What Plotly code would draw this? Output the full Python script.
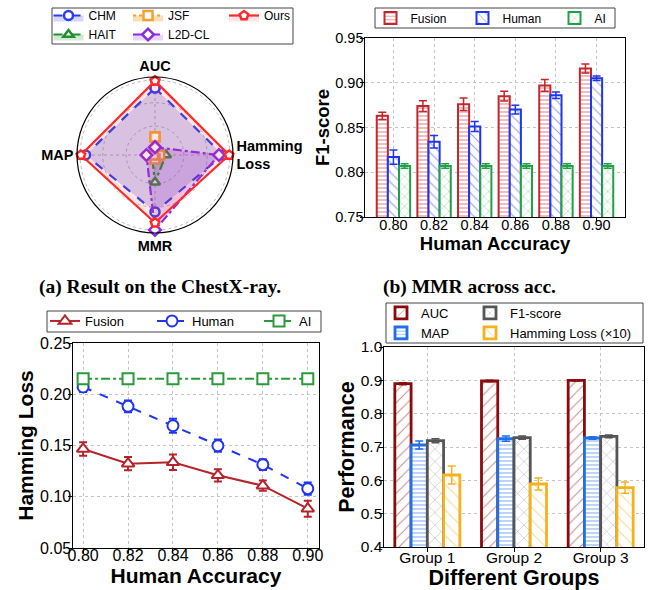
import plotly.graph_objects as go

W, H = 654, 590
FONT = "Liberation Sans, Arial, sans-serif"
SERIF = "Liberation Serif, Times New Roman, serif"

# ---------------- data ----------------
# (a) radar
radar_axes = ["AUC", "Hamming<br>Loss", "MMR", "MAP"]
radar_chm = [0.86, 0.87, 0.73, 0.89]
radar_hait = [0.02, 0.14, 0.35, 0.04]
radar_jsf = [0.23, 0.06, 0.05, 0.02]
radar_l2d = [0.10, 0.82, 0.96, 0.11]
radar_ours = [0.95, 0.95, 0.87, 0.95]

# (b) F1-score across human accuracy
acc_labels = ["0.80", "0.82", "0.84", "0.86", "0.88", "0.90"]
b_fusion = [0.863, 0.874, 0.876, 0.885, 0.897, 0.916]
b_fusion_err = [0.004, 0.006, 0.007, 0.0055, 0.0065, 0.005]
b_human = [0.817, 0.834, 0.851, 0.870, 0.886, 0.905]
b_human_err = [0.008, 0.007, 0.0056, 0.005, 0.0037, 0.0026]
b_ai = [0.807, 0.807, 0.807, 0.807, 0.807, 0.807]
b_ai_err = [0.0026, 0.0026, 0.0026, 0.0026, 0.0026, 0.0026]

# (c) Hamming loss across human accuracy
acc_values = [0.80, 0.82, 0.84, 0.86, 0.88, 0.90]
c_fusion = [0.1466, 0.1323, 0.1336, 0.1209, 0.1108, 0.0884]
c_fusion_err = [0.0065, 0.0065, 0.0075, 0.006, 0.005, 0.0078]
c_human = [0.2071, 0.1882, 0.1693, 0.1498, 0.1313, 0.1079]
c_human_err = [0.005, 0.0057, 0.0068, 0.006, 0.0052, 0.0059]
c_ai = [0.2152, 0.2152, 0.2152, 0.2152, 0.2152, 0.2152]
c_ai_err = [0.001, 0.001, 0.001, 0.001, 0.001, 0.001]

# (d) performance across groups
groups = ["Group 1", "Group 2", "Group 3"]
d_auc = [0.890, 0.898, 0.900]
d_auc_err = [0.003, 0.002, 0.002]
d_map = [0.706, 0.725, 0.727]
d_map_err = [0.012, 0.008, 0.004]
d_f1 = [0.719, 0.728, 0.732]
d_f1_err = [0.006, 0.005, 0.004]
d_hl10 = [0.616, 0.589, 0.578]
d_hl10_err = [0.027, 0.018, 0.017]

fig = go.Figure()

# ---------------- (a) radar ----------------
def closed(v):
    return list(v) + [v[0]]

radar_series = [
    ("CHM", radar_chm, "#2b3cf0", "dash", "circle", "rgba(60,70,230,0.22)", "legend3", 1),
    ("HAIT", radar_hait, "#23902d", "dashdot", "triangle-up", "rgba(35,144,45,0.20)", "legend3", 2),
    ("JSF", radar_jsf, "#f5a030", "dot", "square", "rgba(245,160,48,0.35)", "legend4", 1),
    ("L2D-CL", radar_l2d, "#8a2be2", "dashdot", "diamond", "rgba(138,43,226,0.20)", "legend4", 2),
    ("Ours", radar_ours, "#ff2a2a", "solid", "pentagon", "rgba(255,60,60,0.13)", "legend5", 1),
]
for name, vals, col, dash, sym, fillc, leg, rank in radar_series:
    fig.add_trace(go.Scatterpolar(
        r=closed(vals), theta=closed(radar_axes), name=name, mode="lines+markers",
        fill="toself", fillcolor=fillc,
        line=dict(color=col, width=2.2, dash=dash),
        marker=dict(symbol=sym, size=9, color="white", line=dict(color=col, width=2.5)),
        legend=leg, legendrank=rank, subplot="polar",
    ))

# ---------------- (b) bars ----------------
b_w = 0.274
b_series = [
    ("Fusion", b_fusion, b_fusion_err, "#c4262e", "-", 4, 0.3),
    ("Human", b_human, b_human_err, "#1f35f0", "\\", 7, 0.15),
    ("AI", b_ai, b_ai_err, "#22a045", "x", 7, 0.15),
]
for i, (name, vals, err, col, shp, sz, sol) in enumerate(b_series):
    fig.add_trace(go.Bar(
        x=acc_labels, y=vals, name=name, width=b_w, offset=-1.5 * b_w + i * b_w,
        marker=dict(color="white", line=dict(color=col, width=2),
                    pattern=dict(shape=shp, fgcolor=col, bgcolor="white", size=sz, solidity=sol)),
        error_y=dict(type="data", array=err, color=col, thickness=1.5, width=4),
        xaxis="x", yaxis="y", legend="legend",
    ))

# ---------------- (c) lines ----------------
c_series = [
    ("Fusion", c_fusion, c_fusion_err, "#b5242a", "solid", "triangle-up"),
    ("Human", c_human, c_human_err, "#1f35f0", "dash", "circle"),
    ("AI", c_ai, c_ai_err, "#2a9a3a", "dashdot", "square"),
]
for name, vals, err, col, dash, sym in c_series:
    fig.add_trace(go.Scatter(
        x=acc_values, y=vals, name=name, mode="lines+markers",
        line=dict(color=col, width=2, dash=dash),
        marker=dict(symbol=sym, size=11, color="white", line=dict(color=col, width=2)),
        error_y=dict(type="data", array=err, color=col, thickness=2, width=4),
        xaxis="x2", yaxis="y2", legend="legend2",
    ))

# ---------------- (d) bars ----------------
d_w = 0.1875
d_series = [
    ("AUC", d_auc, d_auc_err, "#8b0a0f", "/", 8, 0.12, "legend6", 1),
    ("MAP", d_map, d_map_err, "#1f6fe8", "-", 4, 0.3, "legend6", 2),
    ("F1-score", d_f1, d_f1_err, "#555555", "x", 9, 0.1, "legend7", 1),
    ("Hamming Loss (×10)", d_hl10, d_hl10_err, "#f5b21e", "\\", 9, 0.12, "legend7", 2),
]
for i, (name, vals, err, col, shp, sz, sol, leg, rank) in enumerate(d_series):
    fig.add_trace(go.Bar(
        x=groups, y=vals, name=name, width=d_w, offset=-2 * d_w + i * d_w,
        marker=dict(color="white", line=dict(color=col, width=2.8),
                    pattern=dict(shape=shp, fgcolor=col, bgcolor="white", size=sz, solidity=sol)),
        error_y=dict(type="data", array=err, color=col, thickness=1.5, width=4),
        xaxis="x3", yaxis="y3", legend=leg, legendrank=rank,
    ))

# ---------------- layout ----------------
def ax_style(standoff, **kw):
    d = dict(showline=True, linecolor="black", linewidth=1.2, mirror=True,
             ticks="outside", ticklen=3.5, tickwidth=1, tickcolor="black",
             showgrid=True, gridcolor="#c4c4c4", griddash="dot", gridwidth=1,
             zeroline=False, automargin=False, ticklabelstandoff=standoff)
    d.update(kw)
    return d

def title(text, size, standoff):
    return dict(text=text, font=dict(family=FONT, size=size, color="black", weight="bold"),
                standoff=standoff)

def leg(x, y, size, orient="v", ew=None):
    d = dict(x=x / W, y=1 - y / H, xanchor="left", yanchor="top", orientation=orient,
             bgcolor="rgba(0,0,0,0)", borderwidth=0,
             font=dict(family=FONT, size=size, color="black"))
    if ew is not None:
        d["entrywidth"] = ew
        d["entrywidthmode"] = "pixels"
    return d

fig.update_layout(
    width=W, height=H, margin=dict(l=0, r=0, t=0, b=0, autoexpand=False),
    paper_bgcolor="white", plot_bgcolor="white",
    barmode="overlay",
    font=dict(family=FONT, color="black"),
    polar=dict(
        domain=dict(x=[77 / W, 233 / W], y=[1 - 233 / H, 1 - 77 / H]),
        bgcolor="white",
        angularaxis=dict(rotation=90, direction="clockwise", showline=True,
                         linecolor="black", linewidth=1.2, gridcolor="#b8b8b8",
                         griddash="dot", ticks="",
                         categoryorder="array", categoryarray=radar_axes,
                         tickfont=dict(family=FONT, size=14.5, color="black", weight="bold")),
        radialaxis=dict(range=[0, 1], showticklabels=False, ticks="", showline=False,
                        tickvals=[0.08, 0.37, 0.67, 0.96], gridcolor="#b8b8b8",
                        griddash="dot"),
    ),
    xaxis=ax_style(-9, domain=[365 / W, 625 / W], anchor="y", type="category", range=[-0.7, 5.7],
                   tickfont=dict(size=14.5), title=title("Human Accuracy", 18.5, 0)),
    yaxis=ax_style(-6, domain=[1 - 217 / H, 1 - 38 / H], anchor="x", range=[0.75, 0.95], dtick=0.05,
                   tickformat=".2f", tickfont=dict(size=14.5),
                   title=title("F1-score", 18.5, 0)),
    xaxis2=ax_style(-11, domain=[73 / W, 319 / W], anchor="y2", range=[0.7955, 0.905], dtick=0.02,
                    tickformat=".2f", tickfont=dict(size=16),
                    title=title("Human Accuracy", 21, 0)),
    yaxis2=ax_style(-6, domain=[1 - 548 / H, 1 - 343 / H], anchor="x2", range=[0.05, 0.25], dtick=0.05,
                    tickformat=".2f", tickfont=dict(size=16),
                    title=title("Hamming Loss", 21, 0)),
    xaxis3=ax_style(-7, domain=[384 / W, 644 / W], anchor="y3", type="category", range=[-0.5, 2.5],
                    tickfont=dict(size=15.5), title=title("Different Groups", 21.5, 0)),
    yaxis3=ax_style(-6, domain=[1 - 547 / H, 1 - 347 / H], anchor="x3", range=[0.4, 1.0], dtick=0.1,
                    tickformat=".1f", tickfont=dict(size=15.5),
                    title=title("Performance", 21.5, 0)),
    legend=leg(370.5, 3.5, 12, "h", 47),
    legend2=leg(45, 306, 13, "h", 62),
    legend3=leg(48.5, 1, 12),
    legend4=leg(128, 1, 12),
    legend5=leg(224, 1, 12),
    legend6=leg(381, 298, 13),
    legend7=leg(470, 298, 13),
    showlegend=True,
)

# legend frames
frames = [(52, 8, 293, 44), (375, 8, 615, 28), (47, 311, 321, 332), (386, 303, 643, 343)]
for x0, y0, x1, y1 in frames:
    fig.add_shape(type="rect", xref="paper", yref="paper",
                  x0=x0 / W, x1=x1 / W, y0=1 - y1 / H, y1=1 - y0 / H,
                  line=dict(color="#444444", width=1), fillcolor="white", layer="below")

# captions
for text, cx in [("(a) Result on the ChestX-ray.", 160), ("(b) MMR across acc.", 469)]:
    fig.add_annotation(text=text, x=cx / W, y=1 - 287 / H, xref="paper", yref="paper",
                       showarrow=False, xanchor="center", yanchor="middle",
                       font=dict(family=SERIF, size=19.5, color="black", weight="bold"))

fig.write_html("out.html", config={"displayModeBar": False},
               post_script="document.body.style.margin='0px';")
